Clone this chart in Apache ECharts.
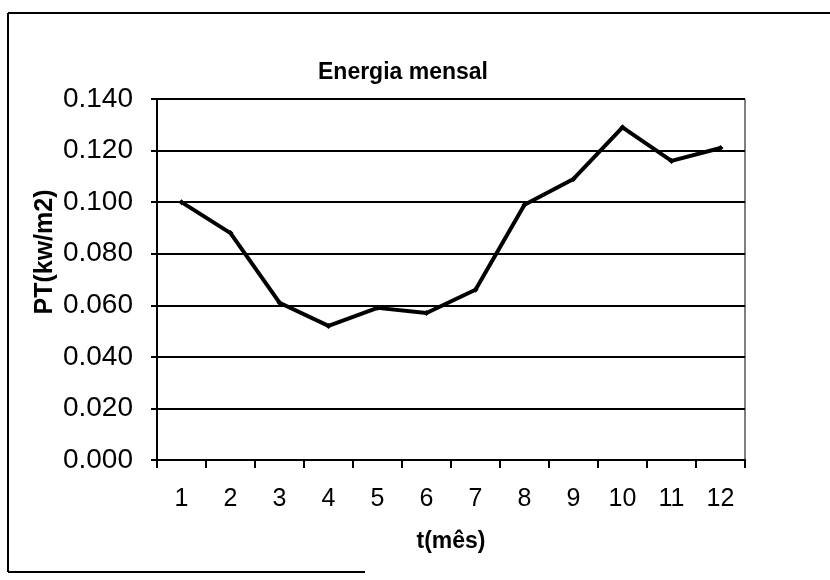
<!DOCTYPE html>
<html>
<head>
<meta charset="utf-8">
<script src="https://cdn.jsdelivr.net/npm/echarts@6/dist/echarts.min.js"></script>
<style>html,body{margin:0;padding:0;background:#fff}#c{width:830px;height:580px}</style>
</head>
<body>
<div id="c"></div>
<script>
const months = ['1','2','3','4','5','6','7','8','9','10','11','12'];
const energia = [0.100, 0.088, 0.061, 0.052, 0.059, 0.057, 0.066, 0.099, 0.109, 0.129, 0.116, 0.121];
const yTicks = {min: 0, max: 0.14, interval: 0.02};
const titleText = 'Energia mensal';
const xName = 't(mês)';
const yName = 'PT(kw/m2)';

const FONT = '"Liberation Sans", Arial, sans-serif';
const chart = echarts.init(document.getElementById('c'));
chart.setOption({
  animation: false,
  backgroundColor: '#fff',
  title: {
    text: titleText, left: 398, top: 56, textAlign: 'center',
    textStyle: {fontFamily: FONT, fontWeight: 'bold', fontSize: 23, color: '#000'}
  },
  grid: {left: 157, right: 85, top: 99, bottom: 120, show: true, borderColor: '#000', borderWidth: 1},
  xAxis: {
    type: 'category', data: months, boundaryGap: true,
    name: xName, nameLocation: 'middle', nameGap: 70,
    nameTextStyle: {fontFamily: FONT, fontWeight: 'bold', fontSize: 23, color: '#000'},
    axisLine: {lineStyle: {color: '#000', width: 2}},
    axisTick: {show: true, length: 8, alignWithLabel: false, lineStyle: {color: '#000', width: 2}},
    axisLabel: {fontFamily: FONT, fontSize: 25, color: '#000', margin: 27}
  },
  yAxis: {
    type: 'value', min: yTicks.min, max: yTicks.max, interval: yTicks.interval,
    axisLine: {show: true, lineStyle: {color: '#000', width: 2}},
    axisTick: {show: true, length: 6, lineStyle: {color: '#000', width: 2}},
    axisLabel: {fontFamily: FONT, fontSize: 28, color: '#000', margin: 24,
      formatter: v => v.toFixed(3)},
    splitLine: {show: true, lineStyle: {color: '#000', width: 2}}
  },
  series: [{
    type: 'line', data: energia, symbol: 'diamond', symbolSize: 6,
    lineStyle: {color: '#000', width: 4}, itemStyle: {color: '#000'}
  }],
  graphic: [
    {type: 'text', x: 45, y: 252, rotation: Math.PI / 2,
      style: {text: yName, fontFamily: FONT, fontWeight: 'bold', fontSize: 25, fill: '#000',
        align: 'center', verticalAlign: 'middle'}},
    {type: 'line', shape: {x1: 8, y1: 13, x2: 830, y2: 13}, style: {stroke: '#000', lineWidth: 2}},
    {type: 'line', shape: {x1: 8, y1: 13, x2: 8, y2: 572}, style: {stroke: '#000', lineWidth: 2}},
    {type: 'line', shape: {x1: 8, y1: 572, x2: 365, y2: 572}, style: {stroke: '#000', lineWidth: 2}}
  ]
});
</script>
</body>
</html>
